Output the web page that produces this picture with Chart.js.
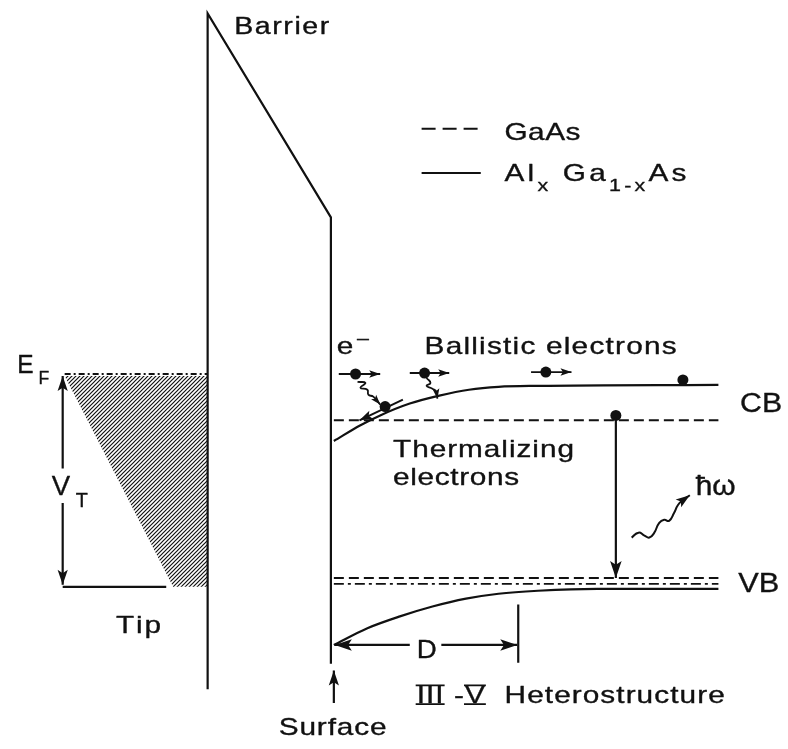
<!DOCTYPE html>
<html>
<head>
<meta charset="utf-8">
<script src="https://cdn.jsdelivr.net/npm/chart.js@4.4.0/dist/chart.umd.min.js"></script>
<style>
  html, body { margin: 0; padding: 0; background: #fff; }
  canvas { display: block; }
</style>
</head>
<body>
<canvas id="diagram" width="788" height="749"></canvas>
<script>
// Band diagram: STM tip / barrier / III-V heterostructure.

const barrier      = [[205, 694], [205, 8], [330, 215], [330, 668]];
const cbAlGaAs     = [[333, 442], [360, 426], [380, 416], [410, 404], [440, 396], [470, 390], [500, 387], [540, 386], [723, 385]];
const vbAlGaAs     = [[333, 649], [367, 632], [400, 620], [433, 610], [467, 602], [500, 597], [540, 594], [600, 592], [723, 592]];
const cbGaAs       = [[333, 421], [723, 421]];
const vbGaAs       = [[333, 581], [723, 581]];
const vbDashDot    = [[333, 587], [723, 587]];

const tipFermi     = [[60, 374], [205, 374]];
const tipBottom    = [[58, 590], [163, 590]];
const tipFilled    = [[60, 376], [205, 376], [205, 590], [170, 590]];
const vtUpper      = [[58, 470], [58, 376]];
const vtLower      = [[58, 505], [58, 588]];

const surfaceArrow = [[333, 708], [333, 675]];
const dLeft        = [[410, 649], [334, 649]];
const dRight       = [[442, 649], [519, 649]];
const dTick        = [[520, 608], [520, 667]];
const transition   = [[619, 418], [619, 581]];

const ballistic1   = [[338, 374], [380, 374]];
const ballistic2   = [[410, 373], [450, 373]];
const ballistic3   = [[533, 372], [574, 372]];
const relaxArrow   = [[403, 400], [359, 421]];
const phonon1      = [[357, 382], [365, 383], [360, 388], [367, 390], [368, 395], [373, 397], [380, 405]];
const phonon2      = [[427, 378], [431, 383], [427, 386], [433, 389], [437, 392], [438, 399]];
const photon       = [[635, 540], [642, 535], [648, 538], [653, 540], [658, 535], [663, 525], [668, 522], [673, 523], [678, 515], [682, 507], [687, 502], [694, 497]];

const electrons    = [[355, 374], [425, 373], [548, 372], [385, 407], [687, 380], [619, 416]];

const legendDash   = [[422, 125], [482, 125]];
const legendSolid  = [[422, 170], [482, 170]];

// text: left x, baseline y, parts [text, kind], kind = sub | sup | bar
const texts = [
  { x: 232, y: 29,  size: 23, w: 95,  parts: [['Barrier']] },
  { x: 506, y: 137, size: 24, w: 76,  parts: [['GaAs']] },
  { x: 506, y: 178, size: 24, w: 182, parts: [['Al'], ['x', 'sub'], [' Ga'], ['1-x', 'sub'], ['As']] },
  { x: 12,  y: 373, size: 25, w: 32,  parts: [['E'], [' F', 'sub']] },
  { x: 47,  y: 497, size: 28, w: 36,  parts: [['V'], [' T', 'sub']] },
  { x: 112, y: 637, size: 24, w: 45,  parts: [['Tip']] },
  { x: 336, y: 354, size: 24, w: 32,  parts: [['e'], ['\u2013', 'sup']] },
  { x: 425, y: 354, size: 24, w: 252, parts: [['Ballistic electrons']] },
  { x: 393, y: 458, size: 24, w: 181, parts: [['Thermalizing']] },
  { x: 393, y: 487, size: 24, w: 126, parts: [['electrons']] },
  { x: 745, y: 413, size: 27, w: 42,  parts: [['CB']] },
  { x: 743, y: 595, size: 27, w: 41,  parts: [['VB']] },
  { x: 700, y: 497, size: 27, w: 40,  parts: [['\u0127\u03c9']] },
  { x: 417, y: 662, size: 26, w: 20,  parts: [['D']] },
  { x: 277, y: 740, size: 24, w: 108, parts: [['Surface']] },
  { x: 417, y: 708, size: 24, w: 308, parts: [['III', 'bar'], [' -'], ['V', 'bar'], ['  Heterostructure']] }
];

const INK = '#111';
const FONT = '"Liberation Sans", Arial, sans-serif';
const STRETCH = 1.24;   // glyphs widened, the remainder of the width goes into letter spacing

function hatchPattern(ctx) {
  const c = document.createElement('canvas');
  c.width = 4; c.height = 4;
  const g = c.getContext('2d');
  g.strokeStyle = INK;
  g.lineWidth = 1.2;
  g.beginPath();
  g.moveTo(-1, 5); g.lineTo(5, -1);
  g.moveTo(-1, 1); g.lineTo(1, -1);
  g.moveTo(3, 5); g.lineTo(5, 3);
  g.stroke();
  return ctx.createPattern(c, 'repeat');
}

const pts = (arr) => arr.map(([x, y]) => ({ x, y }));

function line(arr, opts) {
  return Object.assign({
    data: pts(arr),
    showLine: true,
    borderColor: INK,
    borderWidth: 2.2,
    pointRadius: 0,
    fill: false,
    tension: 0
  }, opts || {});
}

function drawHead(ctx, from, tip, size) {
  const a = Math.atan2(tip.y - from.y, tip.x - from.x);
  const half = size * 0.34;
  ctx.save();
  ctx.translate(tip.x, tip.y);
  ctx.rotate(a);
  ctx.beginPath();
  ctx.moveTo(0, 0);
  ctx.lineTo(-size, half);
  ctx.lineTo(-size * 0.78, 0);
  ctx.lineTo(-size, -half);
  ctx.closePath();
  ctx.fillStyle = INK;
  ctx.fill();
  ctx.restore();
}

const arrowPlugin = {
  id: 'arrowHeads',
  afterDatasetsDraw(chart) {
    const ctx = chart.ctx;
    chart.data.datasets.forEach((ds, i) => {
      if (!ds.heads) return;
      const p = chart.getDatasetMeta(i).data;
      const size = ds.headSize || 11;
      if (ds.heads.includes('end')) drawHead(ctx, p[p.length - 2], p[p.length - 1], size);
      if (ds.heads.includes('start')) drawHead(ctx, p[1], p[0], size);
    });
  }
};

const partSize = (t, kind) => (kind === 'sub' || kind === 'sup') ? t.size * 0.72 : t.size;

const textPlugin = {
  id: 'diagramText',
  afterDatasetsDraw(chart) {
    const { ctx, scales: { x, y } } = chart;
    ctx.save();
    ctx.fillStyle = INK;
    ctx.strokeStyle = INK;
    ctx.textBaseline = 'alphabetic';
    ctx.lineJoin = 'round';
    texts.forEach(t => {
      // glyph widths, then spread the gaps so the label fills its measured width
      let natural = 0, count = 0;
      t.parts.forEach(([s, kind]) => {
        ctx.font = `${partSize(t, kind)}px ${FONT}`;
        for (const ch of s) { natural += ctx.measureText(ch).width * STRETCH; count++; }
      });
      let stretch = STRETCH, gap = (t.w - natural) / Math.max(1, count - 1);
      if (gap < -1) { stretch = STRETCH * t.w / natural; gap = 0; }
      let px = x.getPixelForValue(t.x);
      const py = y.getPixelForValue(t.y);
      t.parts.forEach(([s, kind]) => {
        ctx.font = `${partSize(t, kind)}px ${FONT}`;
        const dy = kind === 'sub' ? t.size * 0.42 : kind === 'sup' ? -t.size * 0.42 : 0;
        const x0 = px;
        for (const ch of s) {
          ctx.save();
          ctx.translate(px, py + dy);
          ctx.scale(stretch, 1);
          ctx.lineWidth = 0.35;
          ctx.fillText(ch, 0, 0);
          ctx.strokeText(ch, 0, 0);
          ctx.restore();
          px += ctx.measureText(ch).width * stretch + gap;
        }
        if (kind === 'bar') {
          ctx.lineWidth = 1.8;
          ctx.beginPath();
          ctx.moveTo(x0 - 1, py - t.size * 0.74); ctx.lineTo(px - gap + 1, py - t.size * 0.74);
          ctx.moveTo(x0 - 1, py + 1); ctx.lineTo(px - gap + 1, py + 1);
          ctx.stroke();
        }
      });
    });
    ctx.restore();
  }
};

const canvas = document.getElementById('diagram');
const ctx = canvas.getContext('2d');

const datasets = [
  line(tipFilled, { borderWidth: 0, borderColor: 'rgba(0,0,0,0)', fill: 'shape', backgroundColor: hatchPattern(ctx) }),
  line(barrier),
  line(cbAlGaAs, { cubicInterpolationMode: 'monotone' }),
  line(vbAlGaAs, { cubicInterpolationMode: 'monotone' }),
  line(cbGaAs, { borderDash: [10, 5], borderWidth: 2 }),
  line(vbGaAs, { borderDash: [10, 5], borderWidth: 2 }),
  line(vbDashDot, { borderDash: [10, 4, 3, 4], borderWidth: 1.7 }),
  line(tipFermi, { borderDash: [6, 3, 2, 3], borderWidth: 2 }),
  line(tipBottom),
  line(vtUpper, { heads: 'end', headSize: 15 }),
  line(vtLower, { heads: 'end', headSize: 15 }),
  line(surfaceArrow, { heads: 'end', headSize: 15 }),
  line(dLeft, { heads: 'end', headSize: 17 }),
  line(dRight, { heads: 'end', headSize: 17 }),
  line(dTick),
  line(transition, { heads: 'end', headSize: 17 }),
  line(ballistic1, { heads: 'end', headSize: 11, borderWidth: 1.8 }),
  line(ballistic2, { heads: 'end', headSize: 11, borderWidth: 1.8 }),
  line(ballistic3, { heads: 'end', headSize: 11, borderWidth: 1.8 }),
  line(relaxArrow, { heads: 'end', headSize: 13, borderWidth: 2 }),
  line(phonon1, { heads: 'end', headSize: 10, borderWidth: 1.8, tension: 0.5 }),
  line(phonon2, { heads: 'end', headSize: 10, borderWidth: 1.8, tension: 0.5 }),
  line(photon, { heads: 'end', headSize: 14, borderWidth: 2, tension: 0.5 }),
  line(legendDash, { borderDash: [14, 7], borderWidth: 2 }),
  line(legendSolid),
  {
    data: pts(electrons),
    showLine: false,
    pointRadius: 5.5,
    pointBackgroundColor: INK,
    pointBorderColor: INK,
    pointBorderWidth: 0
  }
];

new Chart(ctx, {
  type: 'scatter',
  data: { datasets },
  options: {
    responsive: false,
    animation: false,
    events: [],
    layout: { padding: 0 },
    scales: {
      x: { type: 'linear', min: 0, max: 788, display: false },
      y: { type: 'linear', min: 0, max: 749, reverse: true, display: false }
    },
    plugins: {
      legend: { display: false },
      tooltip: { enabled: false }
    }
  },
  plugins: [arrowPlugin, textPlugin]
});
</script>
</body>
</html>
